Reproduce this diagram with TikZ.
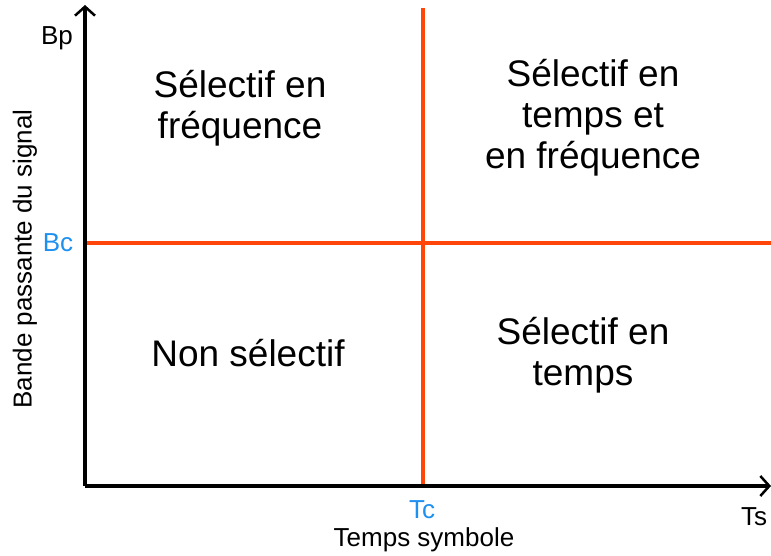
\documentclass[tikz,border=0pt]{standalone}
\usepackage{fontspec}
\setmainfont{Liberation Sans}
\usetikzlibrary{arrows.meta}
\definecolor{R}{RGB}{255, 69, 10}
\definecolor{B}{RGB}{30, 144, 240}

\begin{document}
\begin{tikzpicture}[x=1pt, y=1pt,
   axis/.style={black, line width=3.3pt, -{Straight Barb[length=9pt, width=20pt, line width=2.5pt]}},
   limit/.style={R, line width=3.5pt},
   zone/.style={align=center, font=\fontsize{37}{41}\selectfont},
   small/.style={font=\fontsize{26}{28}\selectfont}]
   \useasboundingbox (0,0) rectangle (771,556);
   % axes and limits
   \coordinate (O) at (85,70);
   \coordinate (yend) at (85,551);
   \coordinate (xend) at (771,70);
   \coordinate (bcL) at (85,313);
   \coordinate (bcR) at (771,313);
   \coordinate (tcB) at (423,70);
   \coordinate (tcT) at (423,548);
   \draw[limit] (bcL) -- (bcR);
   \draw[limit] (tcB) -- (tcT);
   \draw[axis] (O) -- (yend);
   \draw[axis] (O) -- (xend);
   % labels
   \node[small] (bp) at (57,518) {Bp};
   \node[small, B] (bc) at (58,313) {Bc};
   \node[small, B] (tc) at (422,46) {Tc};
   \node[small] (ts) at (754,39) {Ts};
   \node[small] (xlab) at (424,16) {Temps symbole};
   \node[small, rotate=90] (ylab) at (25,297) {Bande passante du signal};
   % zones
   \node[zone] (z1) at (240,448) {Sélectif en\\fréquence};
   \node[zone] (z2) at (593,438) {Sélectif en\\temps et\\en fréquence};
   \node[zone] (z3) at (248,203) {Non sélectif};
   \node[zone] (z4) at (583,201) {Sélectif en\\temps};
\end{tikzpicture}
\end{document}
